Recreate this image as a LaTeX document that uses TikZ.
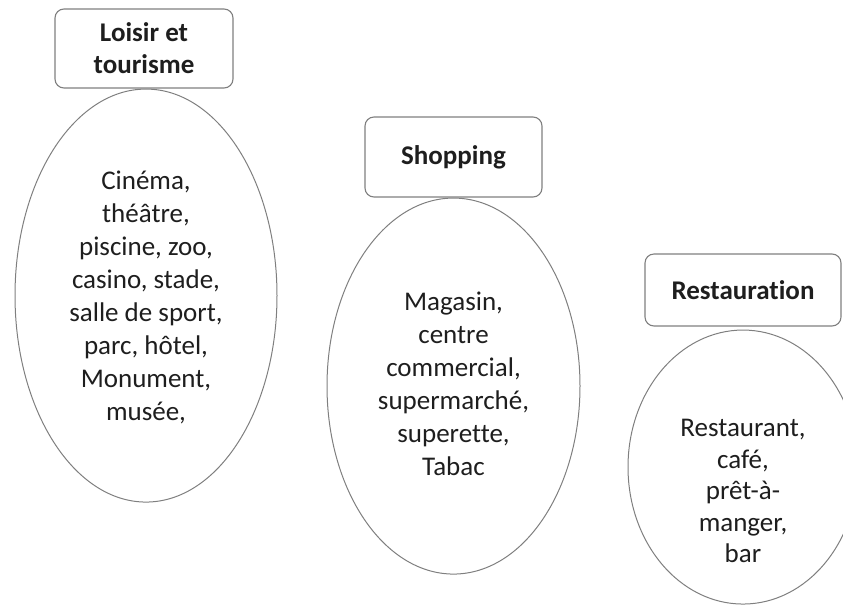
\documentclass[tikz,border=0pt]{standalone}
\usepackage{fontspec}
\setmainfont{Carlito}[Ligatures={NoCommon}]
\usetikzlibrary{positioning,shapes.geometric}
\definecolor{outline}{HTML}{7F7F7F}
\definecolor{inktext}{HTML}{1E1E1E}

\begin{document}
\begin{tikzpicture}[x=1pt,y=-1pt,
  catbox/.style={draw=outline,line width=1.1pt,rounded corners=9pt,inner sep=0pt,
                 minimum width=178pt,minimum height=79pt,align=center,text=inktext,
                 font=\fontsize{27}{32}\selectfont\bfseries},
  bubble/.style={draw=outline,line width=1pt,ellipse,inner sep=0pt},
  items/.style={align=center,text=inktext,font=\fontsize{27}{33}\selectfont},
  node distance=0pt]
\useasboundingbox (0,0) rectangle (843,606);
% category headers
\node[catbox] (loisir) at (144,48.5) {Loisir et\\tourisme};
\node[catbox,minimum width=177pt,minimum height=80pt] (shop) at (453.5,157) {Shopping};
\node[catbox,minimum width=196pt,minimum height=72pt] (resto) at (743,290) {Restauration};
% bubbles under each header
\node[bubble,minimum width=262pt,minimum height=413pt,below=of loisir,xshift=2pt] (loisirEll) {};
\node[bubble,minimum width=253pt,minimum height=376pt,below=of shop] (shopEll) {};
\node[bubble,minimum width=230pt,minimum height=274pt,below=3pt of resto] (restoEll) {};
\node[items] (loisirTxt) at ([yshift=-2pt]loisirEll.center)
  {Cinéma,\\théâtre,\\piscine, zoo,\\casino, stade,\\salle de sport,\\parc, hôtel,\\Monument,\\musée,};
\node[items] (shopTxt) at ([yshift=2pt]shopEll.center)
  {Magasin,\\centre\\commercial,\\supermarché,\\superette,\\Tabac};
\node[items,font=\fontsize{27}{31.5}\selectfont] (restoTxt) at ([yshift=-24pt]restoEll.center)
  {Restaurant,\\café,\\prêt-à-\\manger,\\bar};
\end{tikzpicture}
\end{document}
